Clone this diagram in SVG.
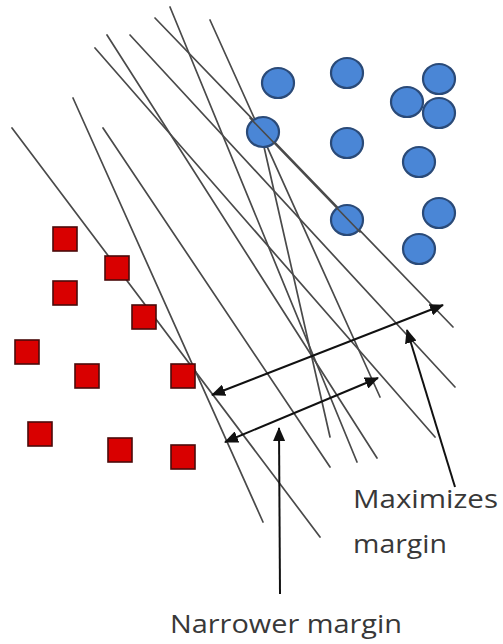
<svg xmlns="http://www.w3.org/2000/svg" width="503" height="644" viewBox="0 0 503 644">
<style>
.hp{stroke:#4a4a4a;stroke-width:1.7;fill:none;stroke-linecap:round}
.ar{stroke:#111;stroke-width:2;fill:none}
.pos{fill:#4a86d6;stroke:#2a4a78;stroke-width:2.2}
.neg{fill:#d90000;stroke:#4a0a0a;stroke-width:1.6}
.lbl{font-family:"Open Sans","Liberation Sans",sans-serif;font-size:26px;fill:#383838}
</style>
<defs>
<marker id="ah" viewBox="0 0 14 12" refX="13" refY="6" markerWidth="14" markerHeight="12" markerUnits="userSpaceOnUse" orient="auto-start-reverse">
<path d="M0,0 L14,6 L0,12 Z" fill="#111"/>
</marker>
</defs>
<rect width="503" height="644" fill="#fff"/>
<g id="hyperplanes">
<line class="hp" x1="12" y1="128" x2="320" y2="537"/>
<line class="hp" x1="73" y1="98" x2="263" y2="522"/>
<line class="hp" x1="103" y1="128" x2="330" y2="467"/>
<line class="hp" x1="95" y1="48" x2="435" y2="437"/>
<line class="hp" x1="107" y1="35" x2="377" y2="458"/>
<line class="hp" x1="130" y1="35" x2="455" y2="387"/>
<line class="hp" x1="155" y1="18" x2="453" y2="327"/>
<line class="hp" x1="170" y1="7" x2="357" y2="462"/>
<line class="hp" x1="210" y1="20" x2="380" y2="397"/>
<line class="hp" x1="262" y1="138" x2="330" y2="437"/>
</g>
<g id="circles">
<g id="c1"><ellipse class="pos" cx="278" cy="83" rx="16" ry="15"/></g>
<g id="c2"><ellipse class="pos" cx="347" cy="73" rx="16" ry="15"/></g>
<g id="c3"><ellipse class="pos" cx="439" cy="79" rx="16" ry="15"/></g>
<g id="c4"><ellipse class="pos" cx="407" cy="102" rx="16" ry="15"/></g>
<g id="c5"><ellipse class="pos" cx="439" cy="113" rx="16" ry="15"/></g>
<g id="c6"><ellipse class="pos" cx="263" cy="132" rx="16" ry="15"/></g>
<g id="c7"><ellipse class="pos" cx="347" cy="143" rx="16" ry="15"/></g>
<g id="c8"><ellipse class="pos" cx="419" cy="162" rx="16" ry="15"/></g>
<g id="c9"><ellipse class="pos" cx="439" cy="213" rx="16" ry="15"/></g>
<g id="c10"><ellipse class="pos" cx="347" cy="220" rx="16" ry="15"/></g>
<g id="c11"><ellipse class="pos" cx="419" cy="249" rx="16" ry="15"/></g>
</g>
<g id="over-lines">
<line class="hp" x1="250" y1="118" x2="360" y2="232"/>
</g>
<g id="squares">
<g id="s1"><rect class="neg" x="53" y="227" width="24" height="24"/></g>
<g id="s2"><rect class="neg" x="105" y="256" width="24" height="24"/></g>
<g id="s3"><rect class="neg" x="53" y="281" width="24" height="24"/></g>
<g id="s4"><rect class="neg" x="132" y="305" width="24" height="24"/></g>
<g id="s5"><rect class="neg" x="15" y="340" width="24" height="24"/></g>
<g id="s6"><rect class="neg" x="75" y="364" width="24" height="24"/></g>
<g id="s7"><rect class="neg" x="171" y="364" width="24" height="24"/></g>
<g id="s8"><rect class="neg" x="28" y="422" width="24" height="24"/></g>
<g id="s9"><rect class="neg" x="108" y="438" width="24" height="24"/></g>
<g id="s10"><rect class="neg" x="171" y="445" width="24" height="24"/></g>
</g>
<g id="connectors">
<line class="ar" x1="212" y1="395" x2="443" y2="305" marker-start="url(#ah)" marker-end="url(#ah)"/>
<line class="ar" x1="225" y1="442" x2="378" y2="378" marker-start="url(#ah)" marker-end="url(#ah)"/>
<line class="ar" x1="455" y1="487" x2="407" y2="330" marker-end="url(#ah)"/>
<line class="ar" x1="280" y1="594" x2="279" y2="428" marker-end="url(#ah)"/>
</g>
<g id="labels">
<text class="lbl" x="353" y="508" textLength="145" lengthAdjust="spacingAndGlyphs">Maximizes</text>
<text class="lbl" x="353" y="553" textLength="94" lengthAdjust="spacingAndGlyphs">margin</text>
<text class="lbl" x="170" y="633" textLength="232" lengthAdjust="spacingAndGlyphs">Narrower margin</text>
</g>
</svg>
